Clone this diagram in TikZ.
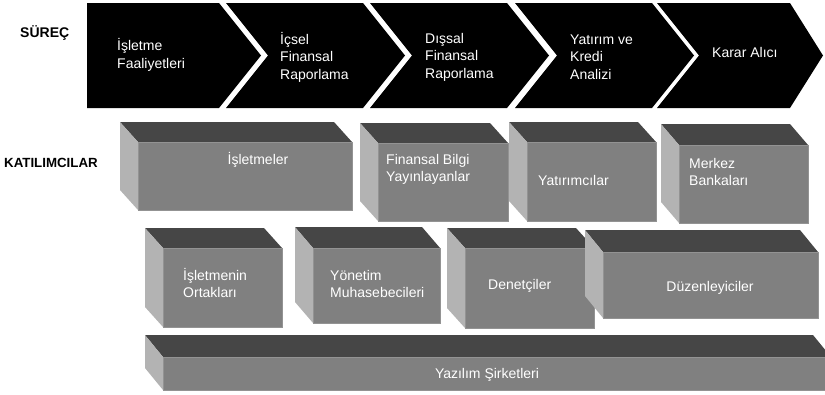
\documentclass[tikz,border=0pt]{standalone}
\usepackage{fontspec}
\setmainfont{Liberation Sans}
\definecolor{topc}{HTML}{464646}
\definecolor{leftc}{HTML}{B3B3B3}
\definecolor{frontc}{HTML}{808080}
\newcommand{\cuboid}[6]{%
  \fill[topc] (#1,#2) -- (#3,#2) -- ({#3+#5},{#2+#6}) -- ({#1+#5},{#2+#6}) -- cycle;
  \fill[leftc] (#1,#2) -- ({#1+#5},{#2+#6}) -- ({#1+#5},#4) -- (#1,{#4-#6}) -- cycle;
  \fill[frontc] ({#1+#5},{#2+#6}) rectangle ({#3+#5},#4);
  \draw[frontc!85!white, line width=0.5pt] ({#1+#5},{#2+#6}) rectangle ({#3+#5},#4);
}
\tikzset{
  chev/.style={fill=black},
  ctext/.style={text=white, anchor=west, align=left, inner sep=0pt, font=\fontsize{14}{17.5}\selectfont},
  btext/.style={text=white, anchor=west, align=left, inner sep=0pt, font=\fontsize{14}{17}\selectfont},
  bctext/.style={text=white, anchor=center, align=center, inner sep=0pt, font=\fontsize{14}{17}\selectfont},
  hdr/.style={text=black, anchor=west, inner sep=0pt, font=\bfseries\fontsize{14}{17}\selectfont}
}
\begin{document}
\begin{tikzpicture}[x=1pt,y=-1pt]
\useasboundingbox (0,0) rectangle (825,394);
\begin{scope}
\clip (0,0) rectangle (825,394);
% process chevrons
\fill[chev] (87,3) -- (219,3) -- (261,55.5) -- (219,108) -- (87,108) -- cycle;
\foreach \L in {226,370,515} {
  \fill[chev] (\L,3) -- ({\L+137},3) -- ({\L+179},55.5) -- ({\L+137},108) -- (\L,108) -- ({\L+42},55.5) -- cycle;
}
\fill[chev] (657,3) -- (790,3) -- (823,55.5) -- (790,108) -- (657,108) -- (699,55.5) -- cycle;

% participant cuboids
\cuboid{120}{122}{334}{210}{18}{20}
\cuboid{360}{123}{490}{221}{18}{20}
\cuboid{509}{122}{638}{221}{18}{20}
\cuboid{661}{124}{790}{223}{18}{21}
\cuboid{145}{228}{264}{327}{18}{20}
\cuboid{295}{227}{422}{323}{18}{21}
\cuboid{447}{228}{576}{328}{18}{20}
\cuboid{585}{230}{800}{318}{18}{22}
\cuboid{145}{335}{813}{390}{18}{22}
\end{scope}

\node[hdr] (surec) at (20,33) {SÜREÇ};
\node[hdr, font=\bfseries\fontsize{13.3}{16}\selectfont] (katil) at (4,163) {KATILIMCILAR};

\node[ctext] (c1) at (117,55) {İşletme\\Faaliyetleri};
\node[ctext] (c2) at (280,57) {İçsel\\Finansal\\Raporlama};
\node[ctext] (c3) at (425,57) {Dışsal\\Finansal\\Raporlama};
\node[ctext] (c4) at (570,57) {Yatırım ve\\Kredi\\Analizi};
\node[ctext] (c5) at (712,52) {Karar Alıcı};

\node[bctext] (b1) at (258,160) {İşletmeler};
\node[btext] (b2) at (386,169) {Finansal Bilgi\\Yayınlayanlar};
\node[btext] (b3) at (538,180) {Yatırımcılar};
\node[btext] (b4) at (689,172) {Merkez\\Bankaları};
\node[btext] (b5) at (183,283) {İşletmenin\\Ortakları};
\node[btext] (b6) at (330,284) {Yönetim\\Muhasebecileri};
\node[btext] (b7) at (488,286) {Denetçiler};
\node[bctext] (b8) at (710,288) {Düzenleyiciler};
\node[bctext] (b9) at (487,375) {Yazılım Şirketleri};
\end{tikzpicture}
\end{document}
